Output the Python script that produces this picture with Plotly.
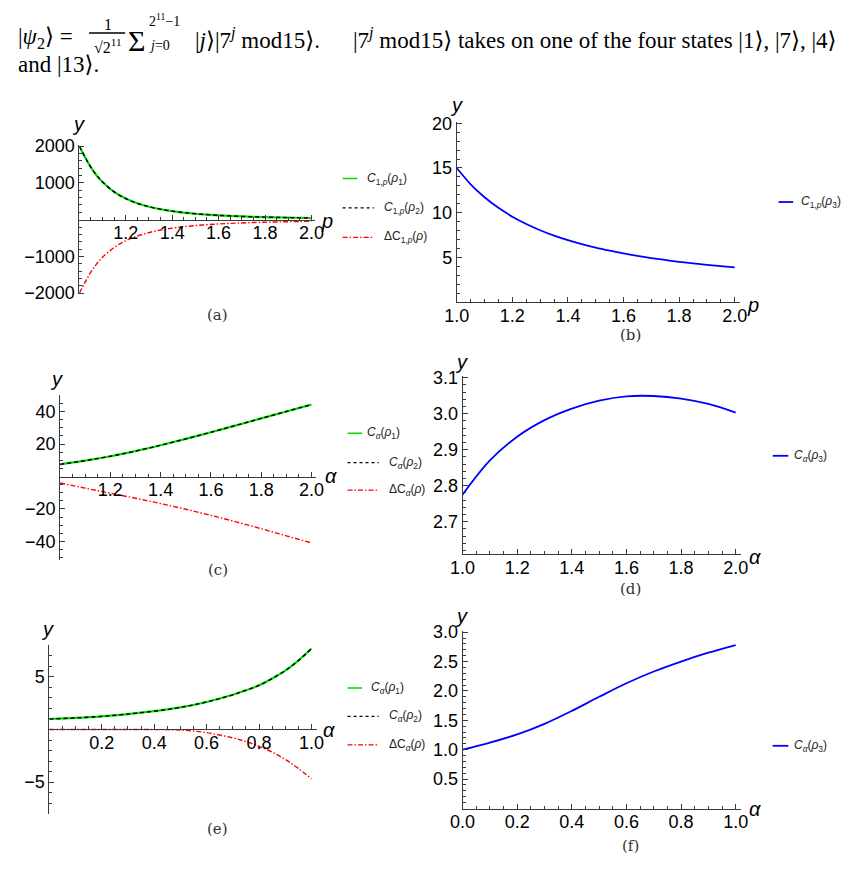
import plotly.graph_objects as go

W, H = 849, 891

# ---------------- data ----------------
p_a = [1.0, 1.025, 1.05, 1.075, 1.1, 1.15, 1.2, 1.25, 1.3, 1.35, 1.4, 1.45, 1.5, 1.55, 1.6, 1.65, 1.7, 1.75, 1.8, 1.85, 1.9, 1.95, 2.0]
c1p_rho1 = [2000, 1700, 1424, 1202, 1024, 757, 574, 445, 352, 283, 232, 192, 161, 137, 117, 102, 89, 78, 69, 62, 55, 50, 45]
c1p_rho2 = [2000, 1700, 1424, 1202, 1024, 757, 574, 445, 352, 283, 232, 192, 161, 137, 117, 102, 89, 78, 69, 62, 55, 50, 45]
dc1p = [-2000, -1700, -1424, -1202, -1024, -757, -574, -445, -352, -283, -232, -192, -161, -137, -117, -102, -89, -78, -69, -62, -55, -50, -45]

p_b = [1.0, 1.05, 1.1, 1.15, 1.2, 1.25, 1.3, 1.35, 1.4, 1.45, 1.5, 1.55, 1.6, 1.65, 1.7, 1.75, 1.8, 1.85, 1.9, 1.95, 2.0]
c1p_rho3 = [15.0, 13.18, 11.73, 10.54, 9.55, 8.73, 8.03, 7.43, 6.92, 6.47, 6.08, 5.74, 5.43, 5.16, 4.92, 4.70, 4.50, 4.32, 4.16, 4.01, 3.87]

a_c = [1.0, 1.1, 1.2, 1.3, 1.4, 1.5, 1.6, 1.7, 1.8, 1.9, 2.0]
ca_rho1_c = [7.5, 9.8, 12.5, 15.7, 19.3, 23.2, 27.3, 31.55, 35.85, 40.15, 44.4]
ca_rho2_c = [7.5, 9.8, 12.5, 15.7, 19.3, 23.2, 27.3, 31.55, 35.85, 40.15, 44.4]
dca_c = [-4.0, -7.2, -10.3, -13.4, -16.7, -20.2, -24.0, -28.0, -32.2, -36.6, -41.0]

a_d = [1.0, 1.1, 1.2, 1.3, 1.4, 1.5, 1.6, 1.7, 1.8, 1.9, 2.0]
ca_rho3_d = [2.775, 2.870, 2.936, 2.982, 3.014, 3.036, 3.048, 3.049, 3.042, 3.027, 3.003]

a_e = [0.0, 0.1, 0.2, 0.3, 0.4, 0.5, 0.6, 0.7, 0.75, 0.8, 0.85, 0.9, 0.95, 1.0]
ca_rho1_e = [1.0, 1.1, 1.25, 1.47, 1.74, 2.10, 2.62, 3.30, 3.73, 4.20, 4.85, 5.60, 6.55, 7.7]
ca_rho2_e = [1.0, 1.1, 1.25, 1.47, 1.74, 2.10, 2.62, 3.30, 3.73, 4.20, 4.85, 5.60, 6.55, 7.7]
dca_e = [0.0, 0.0, 0.0, 0.0, -0.01, -0.05, -0.3, -0.8, -1.15, -1.6, -2.15, -2.85, -3.7, -4.7]

a_f = [0.0, 0.1, 0.2, 0.3, 0.4, 0.5, 0.6, 0.7, 0.8, 0.9, 1.0]
ca_rho3_f = [1.0, 1.12, 1.26, 1.44, 1.66, 1.90, 2.13, 2.33, 2.50, 2.65, 2.78]

# ---------------- helpers ----------------
def fx(x):
    return x / W

def fy(y):
    return 1 - y / H

def dom_x(pa, va, pb, vb, r0, r1):
    s = (pb - pa) / (vb - va)
    return [fx(pa + (r0 - va) * s), fx(pa + (r1 - va) * s)]

def dom_y(pa, va, pb, vb, r0, r1):
    s = (pb - pa) / (vb - va)
    return [fy(pa + (r0 - va) * s), fy(pa + (r1 - va) * s)]

def ypos(pa, va, pb, vb, v):
    s = (pb - pa) / (vb - va)
    return fy(pa + (v - va) * s)

AX = "#3a3a3a"
TICKFONT = dict(family="Liberation Sans, Arial, sans-serif", size=18, color="black")

def axis(domain, rng, tickvals, ticktext, minorvals, xa=False, **kw):
    d = dict(domain=domain, range=rng, showline=True, linecolor=AX, linewidth=1,
             ticks="inside", ticklen=5, tickwidth=1, tickcolor=AX,
             tickmode="array", tickvals=tickvals, ticktext=ticktext,
             showgrid=False, zeroline=False, tickfont=TICKFONT,
             minor=dict(ticks="inside", ticklen=3, tickwidth=1, tickcolor=AX,
                        tickmode="array", tickvals=minorvals, showgrid=False),
             fixedrange=True)
    if xa:
        d["ticklabelstandoff"] = -3
    d.update(kw)
    return d

def frange(a, b, step):
    n = int(round((b - a) / step))
    return [round(a + i * step, 6) for i in range(n + 1)]

def minors(a, b, step, majors):
    return [v for v in frange(a, b, step) if all(abs(v - m) > 1e-9 for m in majors)]

fig = go.Figure()

GREEN = "#00dd00"
RED = "#ff0000"
BLUE = "#0000ff"
BLACK = "#000000"
RED_DASH = "5px,2px,1.5px,2px"
BLK_DASH = "4px,3px"

def add(x, y, ax, color, width, dash="solid"):
    fig.add_trace(go.Scatter(x=x, y=y, mode="lines", xaxis="x" + ax, yaxis="y" + ax,
                             line=dict(color=color, width=width, dash=dash, shape="spline", smoothing=1.0),
                             showlegend=False, hoverinfo="skip"))

add(p_a, c1p_rho1, "", GREEN, 2.2)
add(p_a, c1p_rho2, "", BLACK, 1.4, BLK_DASH)
add(p_a, dc1p, "", RED, 1.4, RED_DASH)
add(p_b, c1p_rho3, "2", BLUE, 1.8)
add(a_c, ca_rho1_c, "3", GREEN, 2.2)
add(a_c, ca_rho2_c, "3", BLACK, 1.4, BLK_DASH)
add(a_c, dca_c, "3", RED, 1.4, RED_DASH)
add(a_d, ca_rho3_d, "4", BLUE, 1.8)
add(a_e, ca_rho1_e, "5", GREEN, 2.2)
add(a_e, ca_rho2_e, "5", BLACK, 1.4, BLK_DASH)
add(a_e, dca_e, "5", RED, 1.4, RED_DASH)
add(a_f, ca_rho3_f, "6", BLUE, 1.8)

# ---------------- axes ----------------
px_ticks_12 = [1.2, 1.4, 1.6, 1.8, 2.0]
px_ticks_10 = [1.0, 1.2, 1.4, 1.6, 1.8, 2.0]
lay = {}

# (a)
ya = (140, 2000, 290, -2000)
lay["xaxis"] = axis(dom_x(68, 1, 306, 2, 1, 2.017), [1, 2.017], px_ticks_12, ["1.2", "1.4", "1.6", "1.8", "2.0"],
                    minors(1, 2, 0.05, px_ticks_12 + [1.0]), xa=True, anchor="free", position=ypos(*ya, 0))
lay["yaxis"] = axis(dom_y(*ya, -2030, 2030), [-2030, 2030], [2000, 1000, -1000, -2000],
                    ["2000", "1000", "−1000", "−2000"], minors(-2000, 2000, 200, [2000, 1000, 0, -1000, -2000]), anchor="x")
# (b)
yb = (116.7, 20, 299, 0)
lay["xaxis2"] = axis(dom_x(455, 1, 740, 2, 1, 2.02), [1, 2.02], px_ticks_10, ["1.0", "1.2", "1.4", "1.6", "1.8", "2.0"],
                     minors(1, 2, 0.05, px_ticks_10), xa=True, anchor="y2")
lay["yaxis2"] = axis(dom_y(*yb, 0, 20.15), [0, 20.15], [5, 10, 15, 20], ["5", "10", "15", "20"],
                     minors(0, 20, 1, [0, 5, 10, 15, 20]), anchor="x2")
# (c)
yc = (411, 40, 543.3, -40)
lay["xaxis3"] = axis(dom_x(48.3, 1, 306, 2, 1, 2.02), [1, 2.02], px_ticks_12, ["1.2", "1.4", "1.6", "1.8", "2.0"],
                     minors(1, 2, 0.05, px_ticks_12 + [1.0]), xa=True, anchor="free", position=ypos(*yc, 0))
lay["yaxis3"] = axis(dom_y(*yc, -51.3, 50.3), [-51.3, 50.3], [40, 20, -20, -40], ["40", "20", "−20", "−40"],
                     minors(-50, 50, 5, [40, 20, 0, -20, -40]), anchor="x3")
# (d)
yd = (413, 3.0, 523.3, 2.7)
dmaj = [2.7, 2.8, 2.9, 3.0, 3.1]
lay["xaxis4"] = axis(dom_x(461, 1, 741, 2, 1, 2.02), [1, 2.02], px_ticks_10, ["1.0", "1.2", "1.4", "1.6", "1.8", "2.0"],
                     minors(1, 2, 0.05, px_ticks_10), xa=True, anchor="y4")
lay["yaxis4"] = axis(dom_y(*yd, 2.61, 3.105), [2.61, 3.105], dmaj, ["2.7", "2.8", "2.9", "3.0", "3.1"],
                     minors(2.62, 3.1, 0.02, dmaj), anchor="x4")
# (e)
ye = (681.7, 5, 789, -5)
emaj = [0.2, 0.4, 0.6, 0.8, 1.0]
lay["xaxis5"] = axis(dom_x(37.3, 0, 306, 1, 0, 1.02), [0, 1.02], emaj, ["0.2", "0.4", "0.6", "0.8", "1.0"],
                     minors(0, 1, 0.05, emaj + [0.0]), xa=True, anchor="free", position=ypos(*ye, 0))
lay["yaxis5"] = axis(dom_y(*ye, -8.05, 8.05), [-8.05, 8.05], [5, -5], ["5", "−5"],
                     minors(-8, 8, 1, [5, 0, -5]), anchor="x5")
# (f)
yf = (636, 3.0, 786, 0.5)
fmajx = [0.0, 0.2, 0.4, 0.6, 0.8, 1.0]
fmajy = [0.5, 1.0, 1.5, 2.0, 2.5, 3.0]
lay["xaxis6"] = axis(dom_x(461, 0, 741, 1, 0, 1.02), [0, 1.02], fmajx, ["0.0", "0.2", "0.4", "0.6", "0.8", "1.0"],
                     minors(0, 1, 0.05, fmajx), xa=True, anchor="y6")
lay["yaxis6"] = axis(dom_y(*yf, 0, 3.02), [0, 3.02], fmajy, ["0.5", "1.0", "1.5", "2.0", "2.5", "3.0"],
                     minors(0, 3, 0.1, fmajy + [0.0]), anchor="x6")

fig.update_layout(**lay)

# ---------------- annotations ----------------
ann = []
shapes = []

def text(x, y, s, size, family="Liberation Sans, Arial, sans-serif", xanchor="center", yanchor="middle", color="black"):
    ann.append(dict(x=fx(x), y=fy(y), xref="paper", yref="paper", text=s, showarrow=False,
                    xanchor=xanchor, yanchor=yanchor, borderpad=0,
                    font=dict(size=size, family=family, color=color)))

SANS = "Liberation Sans, Arial, sans-serif"
SERIF = "Liberation Serif, Times New Roman, DejaVu Serif, serif"
CAPSERIF = "DejaVu Serif, Liberation Serif, serif"

# axis labels
for (x, y, s) in [(67, 117, "y"), (322, 216, "p"), (455, 98, "y"), (759, 302, "p"),
                  (45, 378, "y"), (326, 477, "α"), (460, 360, "y"), (761, 559, "α"),
                  (35, 633, "y"), (324, 736, "α"), (460, 620, "y"), (761, 817, "α")]:
    text(x, y, "<i>" + s + "</i>", 20, SANS)

# captions
for (x, y, s) in [(210, 312, "(a)"), (633, 333, "(b)"), (210, 573, "(c)"),
                  (633, 592, "(d)"), (210, 837, "(e)"), (633, 854, "(f)")]:
    text(x, y, s, 15, CAPSERIF, color="#333333")

# legends
def leg(x0, x1, y, color, width, dash, tx, label):
    shapes.append(dict(type="line", xref="paper", yref="paper", x0=fx(x0), x1=fx(x1), y0=fy(y), y1=fy(y),
                       line=dict(color=color, width=width, dash=dash)))
    text(tx, y, label, 12, SANS, xanchor="left", color="#222222")

L1 = "<i>C</i><sub>1,<i>p</i></sub>(<i>ρ</i><sub>1</sub>)"
L2 = "<i>C</i><sub>1,<i>p</i></sub>(<i>ρ</i><sub>2</sub>)"
L3 = "ΔC<sub>1,<i>p</i></sub>(<i>ρ</i>)"
L4 = "<i>C</i><sub>1,<i>p</i></sub>(<i>ρ</i><sub>3</sub>)"
A1 = "<i>C</i><sub><i>α</i></sub>(<i>ρ</i><sub>1</sub>)"
A2 = "<i>C</i><sub><i>α</i></sub>(<i>ρ</i><sub>2</sub>)"
A3 = "ΔC<sub><i>α</i></sub>(<i>ρ</i>)"
A4 = "<i>C</i><sub><i>α</i></sub>(<i>ρ</i><sub>3</sub>)"

leg(338, 353, 173, GREEN, 1.5, "solid", 362, L1)
leg(338, 370, 203, BLACK, 1.2, "3px,3px", 379, L2)
leg(338, 370, 233, RED, 1.2, RED_DASH, 379, L3)
leg(785, 800, 197, BLUE, 1.8, "solid", 807, L4)
leg(343, 358, 433, GREEN, 1.5, "solid", 362, A1)
leg(343, 375, 463, BLACK, 1.2, "3px,3px", 384, A2)
leg(343, 375, 491, RED, 1.2, RED_DASH, 384, A3)
leg(779, 795, 456, BLUE, 1.8, "solid", 800, A4)
leg(343, 358, 693, GREEN, 1.5, "solid", 366, A1)
leg(343, 375, 722, BLACK, 1.2, "3px,3px", 384, A2)
leg(343, 375, 751, RED, 1.2, RED_DASH, 384, A3)
leg(779, 795, 752, BLUE, 1.8, "solid", 800, A4)

# top text
text(4, 30, "|<i>ψ</i><sub>2</sub>⟩ =", 23, SERIF, xanchor="left")
text(97, 16, "1", 16, SERIF)
shapes.append(dict(type="line", xref="paper", yref="paper", x0=fx(78), x1=fx(115), y0=fy(24.5), y1=fy(24.5),
                   line=dict(color="black", width=1.5)))
text(97, 38, "√2<sup>11</sup>", 16, SERIF)
text(127, 32, "Σ", 30, SERIF)
text(138, 11, "2<sup>11</sup>−1", 14, SERIF, xanchor="left")
text(138, 37, "<i>j</i>=0", 14, SERIF, xanchor="left")
text(186, 30, "|<i>j</i>⟩|7<sup><i>j</i></sup> mod15⟩.", 23, SERIF, xanchor="left")
text(846, 30, "|7<sup><i>j</i></sup> mod15⟩ takes on one of the four states |1⟩, |7⟩, |4⟩", 23, SERIF, xanchor="right")
text(4, 57, "and |13⟩.", 23, SERIF, xanchor="left")

fig.update_layout(width=W, height=H, autosize=False, margin=dict(l=0, r=0, t=0, b=0),
                  paper_bgcolor="white", plot_bgcolor="white", showlegend=False,
                  annotations=ann, shapes=shapes)

fig.write_html("out.html")
